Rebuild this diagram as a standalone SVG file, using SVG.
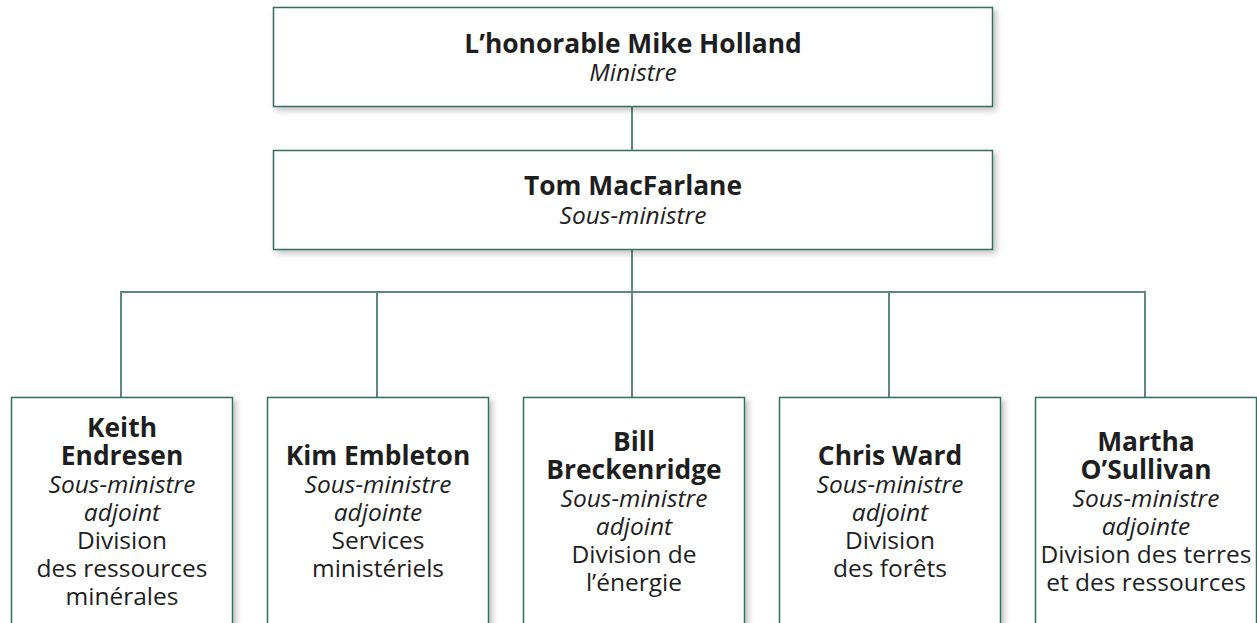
<svg xmlns="http://www.w3.org/2000/svg" width="1257" height="623" viewBox="0 0 1257 623">
<style>
.box{fill:#fff;stroke:#356e60;stroke-width:1.5;filter:url(#sh)}
.conn{stroke:#5e8a7f;stroke-width:2;fill:none}
text{font-family:"Open Sans","Noto Sans","Liberation Sans",sans-serif;fill:#1e1e1e;text-anchor:middle}
.b{font-weight:bold;font-size:26.4px}
.i{font-style:italic;font-size:24.5px}
.r{font-size:24.5px}
</style>
<defs>
<filter id="sh" x="-10%" y="-10%" width="130%" height="130%">
<feDropShadow dx="3" dy="3" stdDeviation="3" flood-color="#000" flood-opacity="0.25"/>
</filter>
</defs>
<g id="connectors">
<line class="conn" x1="632" y1="107" x2="632" y2="150"/>
<line class="conn" x1="632" y1="250" x2="632" y2="397"/>
<line class="conn" x1="121" y1="292" x2="1145" y2="292"/>
<line class="conn" x1="121" y1="291" x2="121" y2="397"/>
<line class="conn" x1="377" y1="292" x2="377" y2="397"/>
<line class="conn" x1="889" y1="292" x2="889" y2="397"/>
<line class="conn" x1="1145" y1="291" x2="1145" y2="397"/>
</g>
<g id="minister">
<rect class="box" x="273.5" y="7.5" width="719" height="99"/>
<text x="633" y="53" class="b">L’honorable Mike Holland</text>
<text x="633" y="81" class="i">Ministre</text>
</g>
<g id="deputy">
<rect class="box" x="273.5" y="150.5" width="719" height="99"/>
<text x="633" y="195" class="b">Tom MacFarlane</text>
<text x="633" y="224" class="i">Sous-ministre</text>
</g>
<g id="keith">
<rect class="box" x="11.5" y="397.5" width="221" height="240"/>
<text x="122" y="437" class="b">Keith</text>
<text x="122" y="465" class="b">Endresen</text>
<text x="122" y="493" class="i">Sous-ministre</text>
<text x="122" y="521" class="i">adjoint</text>
<text x="122" y="549" class="r">Division</text>
<text x="122" y="577" class="r">des ressources</text>
<text x="122" y="605" class="r">minérales</text>
</g>
<g id="kim">
<rect class="box" x="267.5" y="397.5" width="221" height="240"/>
<text x="378" y="465" class="b">Kim Embleton</text>
<text x="378" y="493" class="i">Sous-ministre</text>
<text x="378" y="521" class="i">adjointe</text>
<text x="378" y="549" class="r">Services</text>
<text x="378" y="577" class="r">ministériels</text>
</g>
<g id="bill">
<rect class="box" x="523.5" y="397.5" width="221" height="240"/>
<text x="634" y="451" class="b">Bill</text>
<text x="634" y="479" class="b">Breckenridge</text>
<text x="634" y="507" class="i">Sous-ministre</text>
<text x="634" y="535" class="i">adjoint</text>
<text x="634" y="563" class="r">Division de</text>
<text x="634" y="591" class="r">l’énergie</text>
</g>
<g id="chris">
<rect class="box" x="779.5" y="397.5" width="221" height="240"/>
<text x="890" y="465" class="b">Chris Ward</text>
<text x="890" y="493" class="i">Sous-ministre</text>
<text x="890" y="521" class="i">adjoint</text>
<text x="890" y="549" class="r">Division</text>
<text x="890" y="577" class="r">des forêts</text>
</g>
<g id="martha">
<rect class="box" x="1035.5" y="397.5" width="221" height="240"/>
<text x="1146" y="451" class="b">Martha</text>
<text x="1146" y="479" class="b">O’Sullivan</text>
<text x="1146" y="507" class="i">Sous-ministre</text>
<text x="1146" y="535" class="i">adjointe</text>
<text x="1146" y="563" class="r">Division des terres</text>
<text x="1146" y="591" class="r">et des ressources</text>
</g>
</svg>
